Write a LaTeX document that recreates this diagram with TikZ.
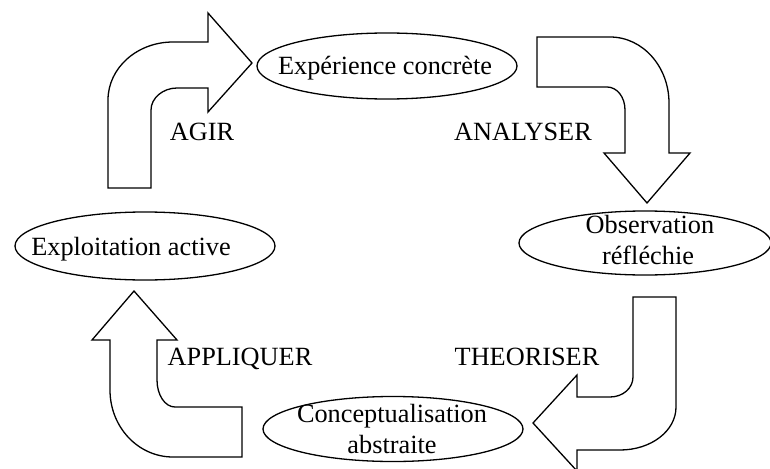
\documentclass[tikz,border=0pt]{standalone}
\usepackage{fontspec}
\setmainfont{Liberation Serif}
\usetikzlibrary{shapes.geometric}
\tikzset{
  stage/.style={draw, ellipse, line width=1.3pt, inner sep=0pt},
  lbl/.style={anchor=base, inner sep=0pt, font=\fontsize{26.3}{30}\selectfont},
  blockarrow/.style={draw, line width=1.3pt, line join=miter, fill=white}
}
\begin{document}
\begin{tikzpicture}[x=1pt, y=-1pt]
\useasboundingbox (0,0) rectangle (770,468);
\clip (0,0) rectangle (770,468);
% ellipses
\node[stage, minimum width=260pt, minimum height=66pt] (exp) at (387,66) {};
\node[stage, minimum width=252pt, minimum height=64pt] (obs) at (645,243) {};
\node[stage, minimum width=260pt, minimum height=65pt] (con) at (393,429) {};
\node[stage, minimum width=260pt, minimum height=68pt] (expl) at (145,246) {};
% ellipse texts
\node[lbl] (texp) at (385,75) {Expérience concrète};
\node[lbl] (tobs1) at (650,233) {Observation};
\node[lbl] (tobs2) at (648,264) {réfléchie};
\node[lbl] (tcon1) at (392,422) {Conceptualisation};
\node[lbl] (tcon2) at (392,453) {abstraite};
\node[lbl] (texpl) at (131,255) {Exploitation active};
% block arrows
% AGIR
\draw[blockarrow] (108,188) -- (108,100) .. controls (108,68) and (137,42) .. (173,42)
  -- (208,42) -- (208,13) -- (252,63) -- (208,112) -- (208,88) -- (177,88)
  .. controls (163,88) and (151,98) .. (151,110) -- (151,188) -- cycle;
% ANALYSER
\draw[blockarrow] (537,37) -- (610,37) .. controls (643,37) and (669,67) .. (669,103)
  -- (669,153) -- (690,153) -- (647,203) -- (604,153) -- (625,153) -- (625,110)
  .. controls (625,97) and (617,87) .. (607,87) -- (537,87) -- cycle;
% THEORISER
\draw[blockarrow] (633,297) -- (676,297) -- (676,407) .. controls (676,431) and (651,450) .. (620,450)
  -- (577,450) -- (577,471) -- (533,423) -- (577,375) -- (577,397) -- (610,397)
  .. controls (623,397) and (633,388) .. (633,377) -- cycle;
% APPLIQUER
\draw[blockarrow] (134,291) -- (177,340) -- (157,340) -- (157,380)
  .. controls (157,395) and (165,407) .. (175,407) -- (242,407) -- (242,457) -- (173,457)
  .. controls (138,457) and (110,427) .. (110,390) -- (110,340) -- (92,340) -- cycle;
% labels
\node[lbl] (agir) at (202,140) {AGIR};
\node[lbl] (analyser) at (523,140) {ANALYSER};
\node[lbl] (theoriser) at (527,365) {THEORISER};
\node[lbl] (appliquer) at (240,365) {APPLIQUER};
\end{tikzpicture}
\end{document}
